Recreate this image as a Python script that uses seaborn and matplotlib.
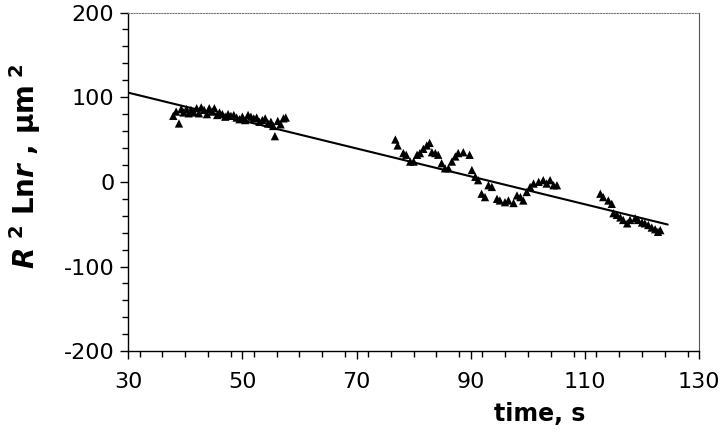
import matplotlib
matplotlib.use("Agg")
import matplotlib.pyplot as plt
import seaborn as sns
import pandas as pd
from matplotlib.ticker import MultipleLocator

# ---- data ----
t_seg1 = [37.9, 38.4, 38.9, 39.3, 39.7, 40.2, 40.6, 41.0, 41.5, 42.0, 42.4, 42.8,
          43.3, 43.8, 44.2, 44.7, 45.1, 45.6, 46.0, 46.5, 47.0, 47.5, 48.0, 48.5,
          49.0, 49.5, 50.0, 50.5, 51.0, 51.5, 52.0, 52.5, 53.0, 53.5, 54.0, 54.5,
          55.0, 55.4, 55.7, 56.2, 56.7, 57.2, 57.6]
v_seg1 = [78, 83, 69, 86, 82, 86, 81, 85, 82, 87, 81, 88, 85, 80, 87, 83, 87, 79,
          82, 80, 77, 80, 78, 79, 76, 74, 77, 73, 79, 77, 75, 76, 71, 73, 75, 69,
          71, 66, 54, 72, 68, 75, 76]

t_seg2 = [76.8, 77.2, 78.2, 78.7, 79.4, 80.0, 80.6, 81.1, 81.7, 82.3, 82.8, 83.2,
          83.8, 84.3, 84.9, 85.5, 86.1, 86.7, 87.3, 87.8, 88.7, 89.8, 90.2, 90.8,
          91.3, 91.9, 92.5, 93.1, 93.7, 94.6, 95.1, 96.0, 96.6, 97.5, 98.1, 98.7,
          99.2, 99.8, 100.4, 101.0, 101.9, 102.7, 103.3, 103.9, 104.5, 105.1]
v_seg2 = [50, 43, 34, 32, 24, 24, 32, 34, 39, 43, 46, 35, 34, 32, 22, 16, 16, 24,
          30, 34, 35, 32, 14, 6, 2, -14, -18, -4, -6, -20, -22, -24, -22, -25, -16,
          -18, -22, -12, -6, -2, 0, 2, -2, 2, -4, -4]

t_seg3 = [112.7, 113.2, 114.1, 114.7, 115.0, 115.6, 116.2, 116.7, 117.4, 117.9,
          118.8, 119.3, 120.0, 120.5, 121.1, 121.7, 122.3, 122.8, 123.2]
v_seg3 = [-14, -18, -22, -26, -37, -39, -42, -45, -49, -45, -43, -45, -48, -49,
          -51, -54, -56, -59, -57]

fit_t = [30.0, 124.5]
fit_v = [105.4, -50.4]

x_ticks = [30, 50, 70, 90, 110, 130]
y_ticks = [-200, -100, 0, 100, 200]

pts = pd.DataFrame({"time": t_seg1 + t_seg2 + t_seg3,
                    "val": v_seg1 + v_seg2 + v_seg3})
fit = pd.DataFrame({"time": fit_t, "val": fit_v})

sns.set_style("ticks")
plt.rcParams["font.family"] = ["DejaVu Sans"]
plt.rcParams["axes.unicode_minus"] = False
plt.rcParams["mathtext.fontset"] = "custom"
plt.rcParams["mathtext.rm"] = "DejaVu Sans:bold"
plt.rcParams["mathtext.it"] = "DejaVu Sans:italic:bold"
plt.rcParams["mathtext.bf"] = "DejaVu Sans:bold"

fig = plt.figure(figsize=(7.2, 4.33), dpi=100)
ax = fig.add_axes([0.178, 0.189, 0.793, 0.782])

sns.lineplot(data=fit, x="time", y="val", ax=ax, color="black", linewidth=1.5)
sns.scatterplot(data=pts, x="time", y="val", ax=ax, marker="^", s=36,
                color="black", edgecolor="none", linewidth=0, zorder=3)

ax.set_xlim(30, 130)
ax.set_ylim(-200, 200)
ax.set_xticks(x_ticks)
ax.set_yticks(y_ticks)
ax.set_xticklabels([str(v) for v in x_ticks])
ax.set_yticklabels([str(v) for v in y_ticks])
ax.xaxis.set_minor_locator(MultipleLocator(4))
ax.yaxis.set_minor_locator(MultipleLocator(20))
ax.tick_params(axis="both", which="major", direction="out", length=6,
               width=1, labelsize=16, colors="black", labelcolor="black")
ax.tick_params(axis="both", which="minor", direction="out", length=4.5,
               width=1, colors="black")
ax.tick_params(axis="y", which="major", pad=4)
ax.tick_params(axis="x", which="major", pad=9)

for s in ["left", "bottom"]:
    ax.spines[s].set_color("black")
    ax.spines[s].set_linewidth(1.0)
ax.spines["top"].set_visible(True)
ax.spines["right"].set_visible(True)
ax.spines["top"].set_color("#777777")
ax.spines["top"].set_linestyle((0, (1, 1.5)))
ax.spines["top"].set_linewidth(0.8)
ax.spines["right"].set_color("#555555")
ax.spines["right"].set_linewidth(0.8)

ax.set_xlabel("time, s", fontsize=17, fontweight="bold", color="black", labelpad=0)
ax.xaxis.set_label_coords(0.72, -0.15)
ax.set_ylabel(r"$R^{\ 2}$ Ln$r$ , μm$^{\ 2}$", fontsize=20, fontweight="bold",
              color="black")
ax.yaxis.set_label_coords(-0.15, 0.545)

fig.savefig("out.png", dpi=100)
